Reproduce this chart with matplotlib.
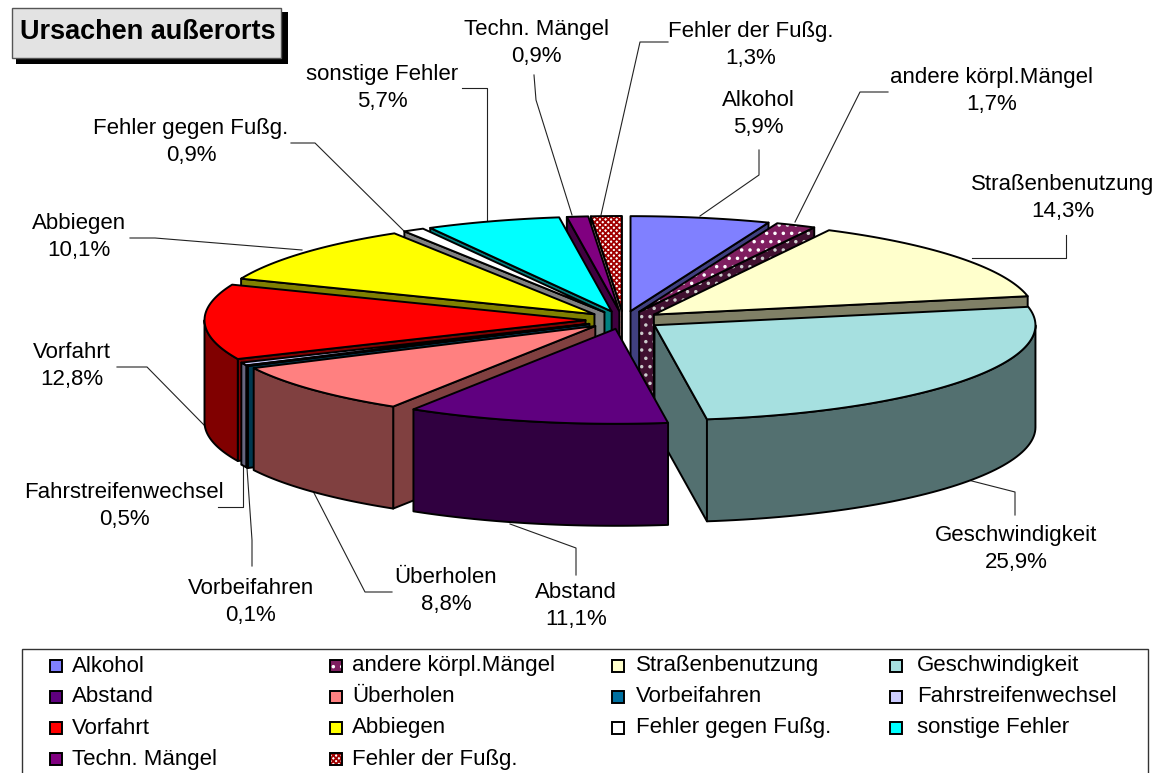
import numpy as np
import matplotlib
matplotlib.use("Agg")
import matplotlib.pyplot as plt
from matplotlib.patches import Polygon, Rectangle

plt.rcParams['font.family'] = ['Liberation Sans', 'DejaVu Sans']
plt.rcParams['hatch.linewidth'] = 1.3

# ================== DATA ==================
categories = ["Alkohol", "andere körpl.Mängel", "Straßenbenutzung", "Geschwindigkeit",
              "Abstand", "Überholen", "Vorbeifahren", "Fahrstreifenwechsel",
              "Vorfahrt", "Abbiegen", "Fehler gegen Fußg.", "sonstige Fehler",
              "Techn. Mängel", "Fehler der Fußg."]
values = [5.9, 1.7, 14.3, 25.9, 11.1, 8.8, 0.1, 0.5, 12.8, 10.1, 0.9, 5.7, 0.9, 1.3]

colors = ["#8080FF", "#7F1F60", "#FFFFCC", "#A6E0E0", "#5F007F", "#FF8080", "#0070A0",
          "#CCCCFF", "#FF0000", "#FFFF00", "#FFFFFF", "#00FFFF", "#800080", "#FFFFFF"]
hatches = {1: ("..", "#FFFFFF"), 13: ("xxxxxx", "#A00000")}

# label centres, leader lines (pixels)
label_pos = [(758, 114), (992, 91), (1063, 198), (1016, 549), (576, 606), (446, 591), (251, 602),
             (124, 506), (72, 366), (79, 237), (191, 142), (382, 88), (536, 43), (751, 45)]
leaders = [[(759, 150), (759, 175), (700, 216)],
           [(888, 92), (860, 92), (795, 222)],
           [(1066, 235), (1066, 258), (972, 258)],
           [(1015, 515), (1015, 492), (968, 480)],
           [(576, 575), (576, 548), (510, 524)],
           [(392, 592), (365, 592), (313, 491)],
           [(252, 566), (252, 540), (247, 468)],
           [(218, 507), (243, 507), (243, 466)],
           [(117, 367), (147, 367), (204, 425)],
           [(130, 238), (155, 238), (302, 250)],
           [(291, 143), (315, 143), (405, 232)],
           [(462, 88), (487, 88), (487, 220)],
           [(534, 75), (536, 100), (572, 215)],
           [(668, 42), (640, 42), (601, 215)]]

# pie geometry (pixels)
CX, CY = 623.5, 320
RX, RY = 381, 95
EX, EY = 38, 9
DEPTH = 102
LW = 1.4
FS = 16

fig = plt.figure(figsize=(11.65, 7.73), dpi=100)
ax = fig.add_axes([0, 0, 1, 1])
ax.set_xlim(0, 1165)
ax.set_ylim(773, 0)
ax.axis("off")


def darker(c):
    return tuple(0.5 * x for x in matplotlib.colors.to_rgb(c))


def add_poly(pts, face, hatch=None, zorder=2):
    if hatch:
        ax.add_patch(Polygon(pts, closed=True, facecolor=face, edgecolor=hatch[1],
                             hatch=hatch[0], lw=0, zorder=zorder))
        ax.add_patch(Polygon(pts, closed=True, fill=False, edgecolor="black", lw=LW,
                             joinstyle="round", zorder=zorder))
    else:
        ax.add_patch(Polygon(pts, closed=True, facecolor=face, edgecolor="black", lw=LW,
                             joinstyle="round", zorder=zorder))


def rim(theta, ax0, ay0):
    return np.column_stack([ax0 + RX * np.sin(theta), ay0 - RY * np.cos(theta)])


# ================== 3D PIE ==================
edges = np.radians(np.concatenate([[0], np.cumsum(values)]) * 3.6)
mids = (edges[:-1] + edges[1:]) / 2
down = np.array([0, DEPTH])

for i in np.argsort(-np.cos(mids)):  # back to front
    a0, a1, mid = edges[i], edges[i + 1], mids[i]
    ax0 = CX + EX * np.sin(mid)
    ay0 = CY - EY * np.cos(mid)
    apex = np.array([ax0, ay0])
    hatch = hatches.get(i)
    side = darker(colors[i])
    side_hatch = None
    if hatch:
        side_hatch = (hatch[0], tuple(0.5 + 0.5 * x * 0.6 for x in matplotlib.colors.to_rgb(hatch[1])))

    # cut faces that look towards the viewer
    if a0 > np.pi:
        p = rim(np.array([a0]), ax0, ay0)[0]
        add_poly([apex, p, p + down, apex + down], side, side_hatch)
    if a1 < np.pi:
        p = rim(np.array([a1]), ax0, ay0)[0]
        add_poly([apex, p, p + down, apex + down], side, side_hatch)

    # outer wall, front half of the rim only
    lo, hi = max(a0, np.pi / 2), min(a1, 1.5 * np.pi)
    if hi > lo:
        arc = rim(np.linspace(lo, hi, 60), ax0, ay0)
        add_poly(np.vstack([arc, (arc + down)[::-1]]), side, side_hatch)

    # top
    top = rim(np.linspace(a0, a1, max(int((a1 - a0) * 60), 4)), ax0, ay0)
    add_poly(np.vstack([apex, top]), colors[i], hatch)

# ================== LABELS ==================
for name, val, (x, y), pts in zip(categories, values, label_pos, leaders):
    pct = f"{val:.1f}".replace(".", ",") + "%"
    ax.text(x, y, name + "\n" + pct, ha="center", va="center", fontsize=FS,
            color="black", linespacing=1.35, zorder=6)
    xs, ys = zip(*pts)
    ax.plot(xs, ys, color="#222222", lw=0.8, zorder=1)

# ================== TITLE BOX ==================
ax.add_patch(Rectangle((16, 12), 272, 52, facecolor="black", edgecolor="none", zorder=3))
ax.add_patch(Rectangle((12, 8), 269, 50, facecolor="#E3E3E3", edgecolor="#555555", lw=1, zorder=4))
ax.text(20, 32, "Ursachen außerorts", fontsize=19.5, fontweight="bold", va="center", ha="left", zorder=5)

# ================== LEGEND ==================
ax.add_patch(Rectangle((22, 649), 1126, 140, facecolor="white", edgecolor="#333333", lw=1, zorder=3))
swatch_x = [50, 330, 612, 890]
text_x = [72, 352, 636, 917]
leg_y = [666, 697, 728, 759]
SW = 12
for i, name in enumerate(categories):
    x, y = swatch_x[i % 4], leg_y[i // 4]
    if i in hatches:
        ax.add_patch(Rectangle((x, y - SW / 2), SW, SW, facecolor=colors[i], edgecolor=hatches[i][1],
                               hatch=hatches[i][0], lw=0, zorder=4))
        ax.add_patch(Rectangle((x, y - SW / 2), SW, SW, fill=False, edgecolor="black", lw=LW, zorder=4))
    else:
        ax.add_patch(Rectangle((x, y - SW / 2), SW, SW, facecolor=colors[i], edgecolor="black", lw=LW, zorder=4))
    ax.text(text_x[i % 4], y, name, fontsize=FS, va="center", ha="left", zorder=5)

fig.savefig("out.png", dpi=100)
